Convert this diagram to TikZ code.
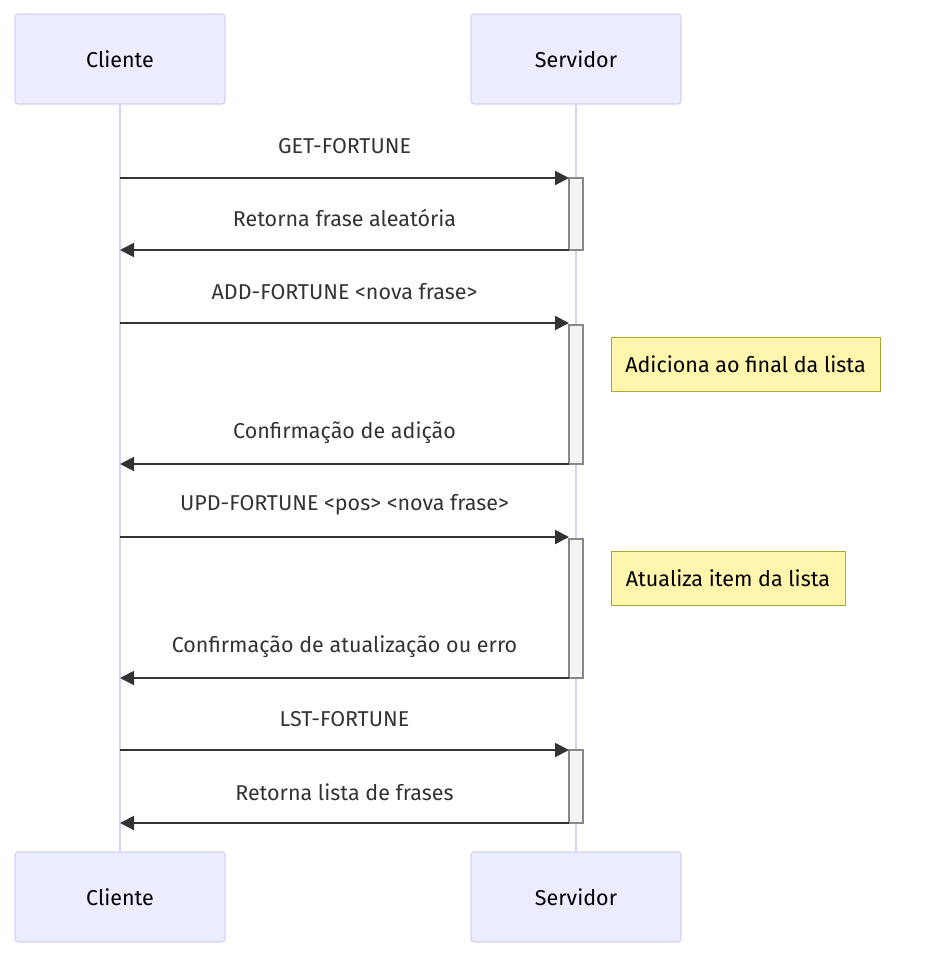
\documentclass[tikz,border=0pt]{standalone}
\usepackage{fontspec}
\setmainfont{Fira Sans}
\usetikzlibrary{arrows.meta}
\definecolor{actfill}{HTML}{ECECFF}
\definecolor{actline}{HTML}{D8D0F5}
\definecolor{lifeline}{HTML}{D9CFF5}
\definecolor{msgcol}{HTML}{333333}
\definecolor{notefill}{HTML}{FFF5AD}
\definecolor{noteline}{HTML}{AAAA33}
\definecolor{actvfill}{HTML}{F4F4F4}
\definecolor{actvline}{HTML}{888888}
\tikzset{
  actor/.style={draw=actline, fill=actfill, line width=1.2pt, rounded corners=3pt,
    minimum width=210pt, minimum height=90pt, inner sep=0pt, outer sep=0pt,
    font=\fontsize{21.5}{24}\selectfont, text=black},
  life/.style={draw=lifeline, line width=2.2pt},
  actv/.style={draw=actvline, fill=actvfill, line width=1.2pt, minimum width=14pt,
    inner sep=0pt, outer sep=0pt},
  msg/.style={draw=msgcol, line width=2pt, -{Triangle[length=14pt,width=14pt]}},
  lbl/.style={text=msgcol, font=\fontsize{21.5}{24}\selectfont, inner sep=0pt},
  note/.style={draw=noteline, fill=notefill, line width=1pt, minimum height=54pt,
    inner sep=0pt, outer sep=0pt, font=\fontsize{21.5}{24}\selectfont, text=black}
}
\begin{document}
\begin{tikzpicture}[x=1pt,y=-1pt]
\useasboundingbox (0,0) rectangle (929,961);
% actors
\node[actor] (ct) at (120,59) {Cliente};
\node[actor] (st) at (576,59) {Servidor};
\node[actor] (cb) at (120,897) {Cliente};
\node[actor] (sb) at (576,897) {Servidor};
% lifelines
\draw[life] (ct.south) -- (cb.north);
\draw[life] (st.south) -- (sb.north);
% activations
\node[actv, minimum height=72pt, anchor=north west] (a1) at (569,178) {};
\node[actv, minimum height=139pt, anchor=north west] (a2) at (569,325) {};
\node[actv, minimum height=139pt, anchor=north west] (a3) at (569,539) {};
\node[actv, minimum height=73pt, anchor=north west] (a4) at (569,750) {};
% client-side endpoints
\coordinate (c1) at (120,178);
\coordinate (c2) at (120,250);
\coordinate (c3) at (120,323);
\coordinate (c4) at (120,464);
\coordinate (c5) at (120,537);
\coordinate (c6) at (120,678);
\coordinate (c7) at (120,750);
\coordinate (c8) at (120,823);
\coordinate (s3) at (569,323);
\coordinate (s5) at (569,537);
% messages
\draw[msg] (c1) -- (a1.north west);
\node[lbl] (l1) at (344.5,146) {GET-FORTUNE};
\draw[msg] (a1.south west) -- (c2);
\node[lbl] (l2) at (344.5,218) {Retorna frase aleatória};
\draw[msg] (c3) -- (s3);
\node[lbl] (l3) at (344.5,292) {ADD-FORTUNE <nova frase>};
\draw[msg] (a2.south west) -- (c4);
\node[lbl] (l4) at (344.5,433) {Confirmação de adição};
\draw[msg] (c5) -- (s5);
\node[lbl] (l5) at (344.5,505) {UPD-FORTUNE <pos> <nova frase>};
\draw[msg] (a3.south west) -- (c6);
\node[lbl] (l6) at (344.5,647) {Confirmação de atualização ou erro};
\draw[msg] (c7) -- (a4.north west);
\node[lbl] (l7) at (344.5,719) {LST-FORTUNE};
\draw[msg] (a4.south west) -- (c8);
\node[lbl] (l8) at (344.5,792) {Retorna lista de frases};
% notes
\node[note, minimum width=269pt, anchor=north west] (n1) at (611,337) {Adiciona ao final da lista};
\node[note, minimum width=234pt, anchor=north west] (n2) at (611,551) {Atualiza item da lista};
\end{tikzpicture}
\end{document}
